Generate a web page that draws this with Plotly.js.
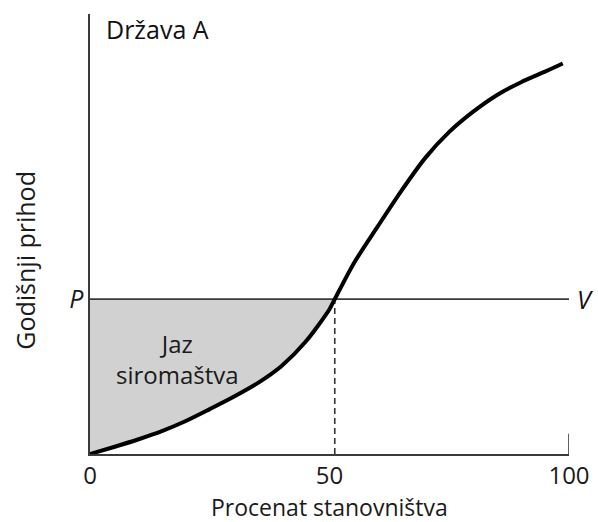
<!DOCTYPE html>
<html>
<head>
<meta charset="utf-8">
<script src="https://cdn.plot.ly/plotly-3.0.1.min.js"></script>
<style>html,body{margin:0;padding:0;background:#fff;}#chart{width:598px;height:522px;}</style>
</head>
<body>
<div id="chart"></div>
<script>
// Income curve of Država A (percent of population vs. annual income, arbitrary units 0-100)
const popPct = [0, 5, 10, 15, 20, 25, 30, 35, 40, 45, 50, 51.1, 55, 60, 65, 70, 75, 80, 85, 90, 95, 98.7];
const income = [0, 1.6, 3.3, 5.2, 7.5, 10.2, 13.0, 16.1, 20.0, 25.5, 32.9, 35.2, 43.2, 51.6, 59.8, 67.3, 73.2, 77.8, 81.6, 84.5, 86.9, 88.75];
const povertyLine = 35.2;     // P
const crossX = 51.1;          // where curve meets P
const xTicks = [0, 50, 100];
const xTickText = ['0', '50', '100'];

const fontFam = '"Open Sans", "Noto Sans", sans-serif';
const FS = 25;

// gap region: curve up to the crossing point, and the P line above it
const gapX = popPct.filter(v => v <= crossX);
const gapCurve = income.slice(0, gapX.length);
const gapTop = gapX.map(() => povertyLine);

const traces = [
  {x: gapX, y: gapCurve, mode: 'lines', line: {width: 0, color: 'rgba(0,0,0,0)', shape: 'spline', smoothing: 0.8}, hoverinfo: 'skip', showlegend: false},
  {x: gapX, y: gapTop, mode: 'lines', line: {width: 0, color: 'rgba(0,0,0,0)'}, fill: 'tonexty', fillcolor: '#d1d1d1', hoverinfo: 'skip', showlegend: false},
  {x: [0, 100], y: [povertyLine, povertyLine], mode: 'lines', line: {color: '#3a3a3a', width: 1.6}, showlegend: false},
  {x: [crossX, crossX], y: [0, povertyLine], mode: 'lines', line: {color: '#333', width: 1.6, dash: '6px,4px'}, showlegend: false},
  {x: popPct, y: income, mode: 'lines', line: {color: '#000', width: 4, shape: 'spline', smoothing: 0.8}, showlegend: false}
];

const layout = {
  width: 598, height: 522,
  margin: {l: 90, r: 29, t: 14, b: 68},
  paper_bgcolor: '#fff', plot_bgcolor: '#fff',
  font: {family: fontFam, size: FS, color: '#1a1a1a'},
  xaxis: {
    range: [0, 100], showgrid: false, zeroline: false,
    showline: true, linecolor: '#3a3a3a', linewidth: 1.6,
    tickvals: xTicks, ticktext: xTickText, ticks: '',
    tickfont: {size: 24, color: '#1a1a1a'},
    fixedrange: true
  },
  yaxis: {
    range: [0, 100], showgrid: false, zeroline: false,
    showline: true, linecolor: '#3a3a3a', linewidth: 1.6,
    tickvals: [povertyLine], ticktext: ['<i>P</i>'], ticks: '',
    tickfont: {size: FS, color: '#1a1a1a'},
    fixedrange: true
  },
  shapes: [
    {type: 'line', xref: 'x', yref: 'y', x0: 100, x1: 100, y0: 0, y1: 4.6, line: {color: '#3a3a3a', width: 1.6}}
  ],
  annotations: [
    {text: 'Država A', xref: 'paper', yref: 'paper', x: 0.03, y: 0.966, xanchor: 'left', yanchor: 'middle', showarrow: false, font: {size: FS, color: '#111'}},
    {text: '<i>V</i>', xref: 'paper', yref: 'y', x: 1.012, y: povertyLine, xanchor: 'left', yanchor: 'middle', showarrow: false, font: {size: FS, color: '#111'}},
    {text: 'Jaz<br>siromaštva', xref: 'x', yref: 'y', x: 18.2, y: 21.6, xanchor: 'center', yanchor: 'middle', showarrow: false, font: {size: 24, color: '#1a1a1a'}},
    {text: 'Procenat stanovništva', xref: 'paper', yref: 'paper', x: 0.5, y: -0.121, xanchor: 'center', yanchor: 'middle', showarrow: false, borderpad: 0, font: {size: 23, color: '#1a1a1a'}},
    {text: 'Godišnji prihod', xref: 'paper', yref: 'paper', x: -0.135, y: 0.44, xanchor: 'center', yanchor: 'middle', textangle: -90, showarrow: false, font: {size: FS, color: '#1a1a1a'}}
  ]
};

Plotly.newPlot('chart', traces, layout, {displayModeBar: false, staticPlot: true});
</script>
</body>
</html>
